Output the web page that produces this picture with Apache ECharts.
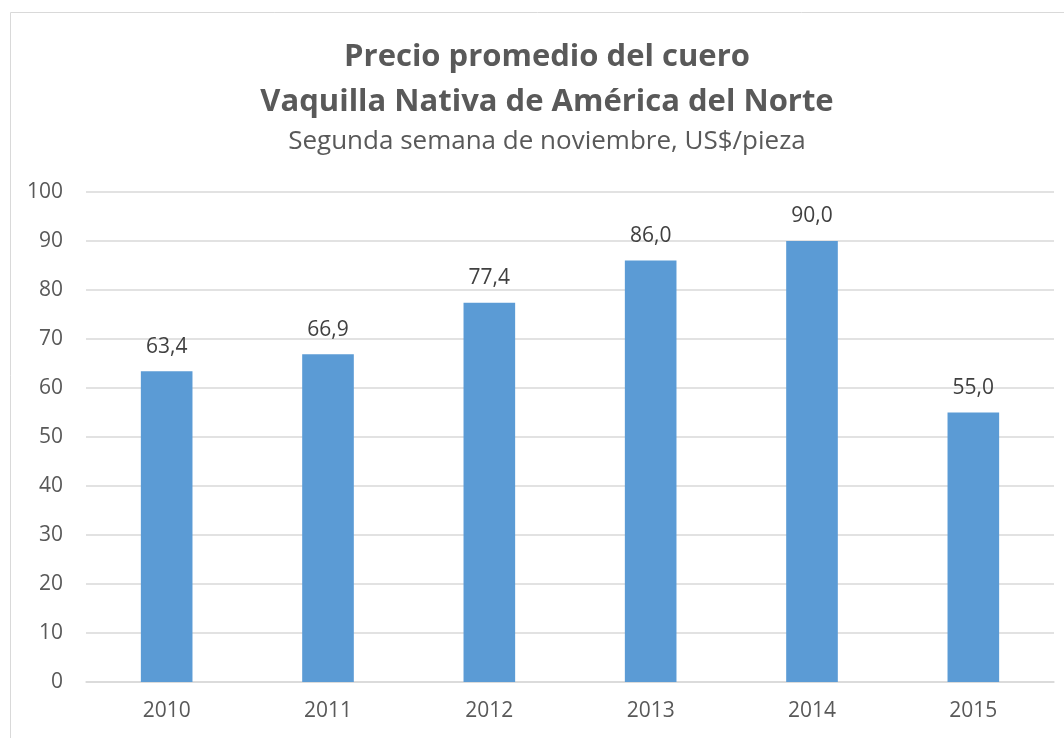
<!DOCTYPE html>
<html>
<head>
<meta charset="utf-8">
<script src="https://cdn.jsdelivr.net/npm/echarts@6/dist/echarts.min.js"></script>
<style>
html, body { margin: 0; padding: 0; background: #fff; }
#chart { width: 1064px; height: 738px; }
</style>
</head>
<body>
<div id="chart"></div>
<script>
var years = ['2010', '2011', '2012', '2013', '2014', '2015'];
var precios = [63.4, 66.9, 77.4, 86.0, 90.0, 55.0];
var yTicks = [0, 10, 20, 30, 40, 50, 60, 70, 80, 90, 100];

var chart = echarts.init(document.getElementById('chart'));
var fuente = 'Open Sans';

function linea(texto, y, font) {
    return {
        type: 'text',
        x: 547,
        y: y,
        style: {
            text: texto,
            font: font,
            fill: '#595959',
            textAlign: 'center',
            textVerticalAlign: 'middle'
        },
        silent: true
    };
}

var option = {
    animation: false,
    textStyle: { fontFamily: fuente },
    graphic: [
        {
            type: 'rect',
            shape: { x: 10.5, y: 12.5, width: 1100, height: 800 },
            style: { fill: 'none', stroke: '#d9d9d9', lineWidth: 1 },
            silent: true
        },
        linea('Precio promedio del cuero', 57, 'bold 31px ' + fuente),
        linea('Vaquilla Nativa de América del Norte', 102, 'bold 31px ' + fuente),
        linea('Segunda semana de noviembre, US$/pieza', 142, '26px ' + fuente)
    ],
    grid: { left: 86, right: 10, top: 192, bottom: 56 },
    xAxis: {
        type: 'category',
        data: years,
        axisLine: { show: true, lineStyle: { color: '#d9d9d9', width: 1.5 } },
        axisTick: { show: false },
        axisLabel: { color: '#595959', fontSize: 21, margin: 19 }
    },
    yAxis: {
        type: 'value',
        min: yTicks[0],
        max: yTicks[yTicks.length - 1],
        interval: 10,
        axisLine: { show: false },
        axisTick: { show: false },
        splitLine: { lineStyle: { color: '#d9d9d9', width: 1.5 } },
        axisLabel: { color: '#595959', fontSize: 21, margin: 23, align: 'right' }
    },
    series: [
        {
            type: 'bar',
            data: precios,
            barWidth: '32%',
            itemStyle: { color: '#5b9bd5' },
            label: {
                show: true,
                position: 'top',
                distance: 14,
                color: '#404040',
                fontSize: 21,
                formatter: function (p) { return p.value.toFixed(1).replace('.', ','); }
            }
        }
    ]
};
chart.setOption(option);
</script>
</body>
</html>
